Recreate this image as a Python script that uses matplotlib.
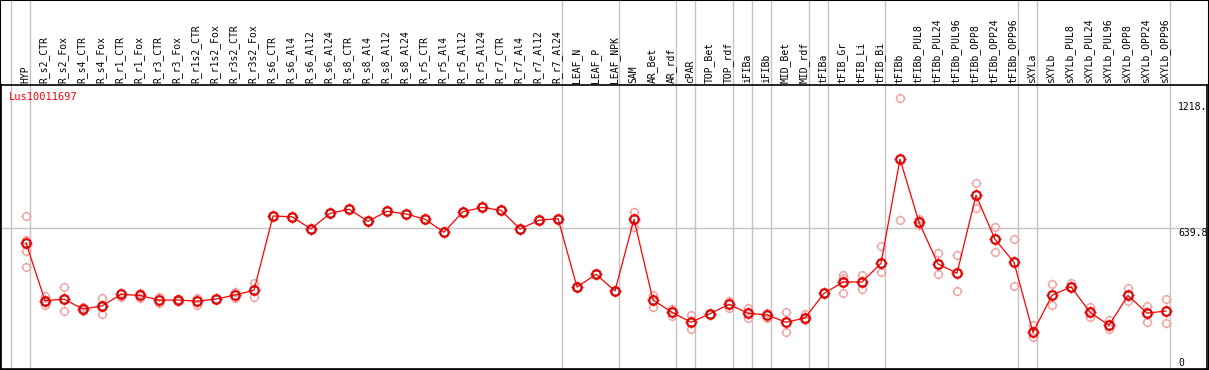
"""Lus10011697 expression profile across tissues / treatments."""
import matplotlib
matplotlib.use("Agg")
import matplotlib.pyplot as plt
from matplotlib.path import Path

samples = [
    "HYP", "R_s2_CTR", "R_s2_Fox", "R_s4_CTR", "R_s4_Fox", "R_r1_CTR", "R_r1_Fox",
    "R_r3_CTR", "R_r3_Fox", "R_r1s2_CTR", "R_r1s2_Fox", "R_r3s2_CTR", "R_r3s2_Fox",
    "R_s6_CTR", "R_s6_Al4", "R_s6_Al12", "R_s6_Al24", "R_s8_CTR", "R_s8_Al4",
    "R_s8_Al12", "R_s8_Al24", "R_r5_CTR", "R_r5_Al4", "R_r5_Al12", "R_r5_Al24",
    "R_r7_CTR", "R_r7_Al4", "R_r7_Al12", "R_r7_Al24", "LEAF_N", "LEAF_P", "LEAF_NPK",
    "SAM", "AR_Bet", "AR_rdf", "cPAR", "TOP_Bet", "TOP_rdf", "iFIBa", "iFIBb",
    "MID_Bet", "MID_rdf", "tFIBa", "tFIB_Gr", "tFIB_Li", "tFIB_Bi", "tFIBb",
    "tFIBb_PUL8", "tFIBb_PUL24", "tFIBb_PUL96", "tFIBb_OPP8", "tFIBb_OPP24",
    "tFIBb_OPP96", "sXYLa", "sXYLb", "sXYLb_PUL8", "sXYLb_PUL24", "sXYLb_PUL96",
    "sXYLb_OPP8", "sXYLb_OPP24", "sXYLb_OPP96",
]

means = [
    567, 282, 290, 241, 256, 313, 308, 285, 285, 280, 290, 310, 333,
    699, 695, 635, 712, 732, 673, 722, 709, 683, 619, 720, 741, 727, 635, 678, 686,
    349, 412, 330, 683, 285, 225, 176, 218, 264, 220, 212, 176, 197,
    318, 374, 374, 466, 979, 668, 463, 417, 801, 584, 471,
    126, 308, 351, 225, 161, 308, 221, 231,
]

replicates = [
    [699, 583, 528, 450], [305, 259, 282], [348, 231, 290], [252, 233],
    [294, 215, 256], [321, 302], [318, 294], [299, 269], [290, 281], [294, 259],
    [290], [326, 294], [367, 302],
    [699], [695], [635], [712], [732], [673], [722], [709], [683], [619], [720],
    [741], [727], [635], [678], [686],
    [349], [412], [330], [717, 646], [310, 252], [243, 207], [212, 141], [218],
    [280, 245], [245, 198], [223, 198], [225, 126], [215, 187],
    [318], [408, 395, 318], [408, 338], [551, 425], [1278, 679], [683, 654],
    [517, 412], [505, 330], [860, 740], [643, 523], [587, 354],
    [162, 105], [364, 259], [367, 351], [253, 200], [187, 141], [343, 279],
    [256, 179], [289, 171],
]

# last sample index of each group (vertical separators)
group_ends = [-1, 0, 28, 31, 34, 35, 37, 38, 39, 41, 42, 45, 52, 53, 60]

gene = "Lus10011697"
right_labels = [("1218.", 1260), ("639.8", 639.8), ("0", 0)]
mid_value = 639.8

W, H = 1209, 370
X0, DX = 26, 19          # pixel of first sample, pixel step
Y0, SCALE = 358, 130 / 639.8   # pixel of value 0, pixels per unit

def px_to_i(px):
    return (px - X0) / DX

def py_to_v(py):
    return (Y0 - py) / SCALE

FONT = "DejaVu Sans Mono"
GRID = "#c4c4c4"
SALMON = "#f0a0a0"

ticks = Path([(0, 0.7), (0, 1), (0, -0.7), (0, -1), (0.7, 0), (1, 0), (-0.7, 0), (-1, 0)],
             [Path.MOVETO, Path.LINETO] * 4)

fig = plt.figure(figsize=(W / 100, H / 100), dpi=100)

# background layer: separators through the label strip, sample names
bg = fig.add_axes([0, 0, 1, 1])
bg.set_xlim(px_to_i(0), px_to_i(W))
bg.set_ylim(H, 0)
bg.set_xticks([])
bg.set_yticks([])
for s in bg.spines.values():
    s.set_color("black")
    s.set_linewidth(1.5)
for b in group_ends:
    bg.axvline(b + 0.2, color=GRID, lw=1)
for i, name in enumerate(samples):
    bg.text(i - 0.05, 83, name, rotation=90, ha="center", va="bottom",
            family=FONT, fontsize=7, color="black")

# plot layer
top_px, bot_px, left_px, right_px = 85, 369, 1, 1207
ax = fig.add_axes([left_px / W, (H - bot_px) / H, (right_px - left_px) / W,
                   (bot_px - top_px) / H])
ax.patch.set_alpha(0)
ax.set_xlim(px_to_i(left_px), px_to_i(right_px))
ax.set_ylim(py_to_v(bot_px), py_to_v(top_px))
ax.set_xticks([])
ax.set_yticks([])
for s in ax.spines.values():
    s.set_color("black")
    s.set_linewidth(1.2)
ax.axhline(mid_value, color=GRID, lw=1, zorder=1)

for i, reps in enumerate(replicates):
    xs = [i] * len(reps)
    ax.plot(xs, reps, "o", ms=5.5, mfc="none", mec=SALMON, mew=1.0, zorder=2)
    ax.plot(xs, reps, ls="none", marker=ticks, ms=7, mec=SALMON, mew=0.8, zorder=2)

xi = list(range(len(samples)))
ax.plot(xi, means, "-", color="red", lw=0.9, zorder=3)
ax.plot(xi, means, "o", ms=6.5, mfc="none", mec="red", mew=1.3, zorder=4)
ax.plot(xi, means, "o", ms=5.0, mfc="none", mec="#400000", mew=0.35, zorder=5)
ax.plot(xi, means, ls="none", marker=ticks, ms=8.5, mec="red", mew=0.9, zorder=4)

ax.text(px_to_i(9), py_to_v(97), gene, color="red", family=FONT, fontsize=7.5,
        ha="left", va="center")
for txt, v in right_labels:
    ax.text(px_to_i(1178), v, txt, family=FONT, fontsize=7, color="black",
            ha="left", va="top")

fig.savefig("out.png", dpi=100)
